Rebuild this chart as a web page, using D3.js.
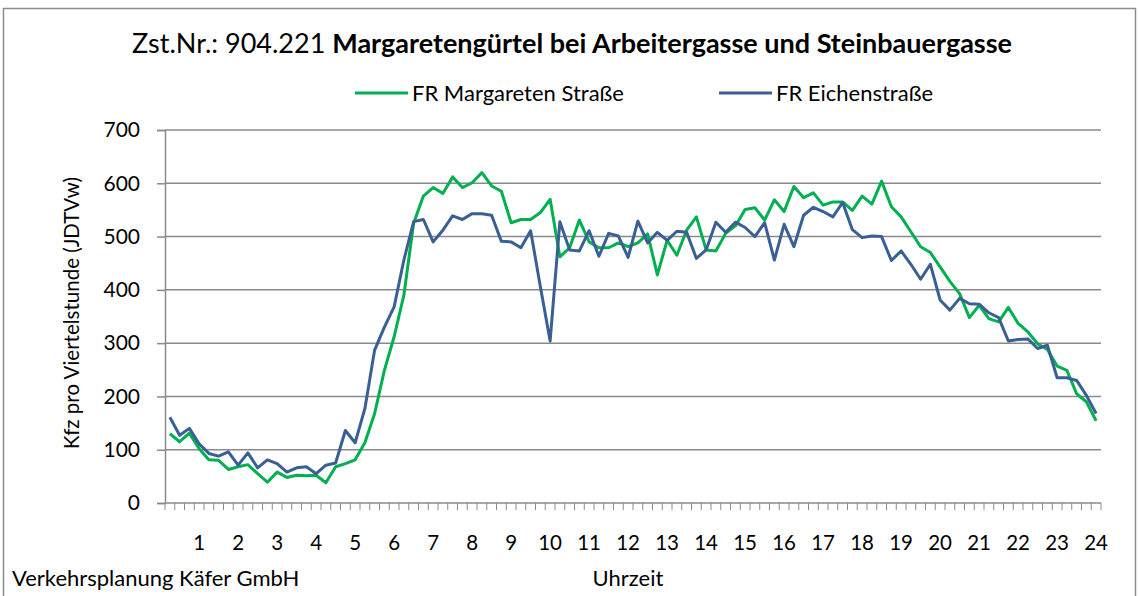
<!DOCTYPE html>
<html>
<head>
<meta charset="utf-8">
<script src="https://cdn.jsdelivr.net/npm/d3@7"></script>
<style>
  body { margin: 0; background: #fff; }
  svg { font-family: Lato, "Open Sans", sans-serif; }
</style>
</head>
<body>
<svg id="chart" width="1139" height="596"></svg>
<script>
// quarter-hour values, 00:15 ... 24:00
const greenValues = [
  130,115,131,102,81,80,63,68,72,55,39,58,48,52,51,52,38,68,74,81,113,168,249,312,
  390,525,576,592,581,612,592,601,620,595,585,526,532,532,545,570,462,479,531,490,479,479,488,481,
  488,505,428,493,465,512,537,475,473,506,520,551,554,531,569,547,594,573,582,559,565,565,549,576,
  561,604,556,537,509,481,470,443,416,393,348,371,346,340,367,337,321,299,288,257,249,205,190,154
];
const blueValues = [
  161,127,140,111,93,88,96,71,94,66,81,74,58,66,68,55,71,75,136,113,177,287,330,368,
  456,528,532,490,512,539,532,543,543,540,491,490,479,511,406,304,528,475,473,511,463,506,501,461,
  529,488,508,493,510,508,459,475,527,508,527,517,500,526,456,523,481,540,555,547,537,564,513,498,
  501,500,455,473,448,420,448,381,362,384,374,373,357,348,304,307,308,290,296,235,235,230,202,168
];
const seriesNames = ['FR Margareten Straße', 'FR Eichenstraße'];
const seriesColors = ['#00b050', '#3a5f95'];
const yTicks = [0, 100, 200, 300, 400, 500, 600, 700];
const hourLabels = d3.range(1, 25);

const svg = d3.select('#chart');
const margin = { top: 130, left: 165, right: 1101, bottom: 503 };

// outer frame
svg.append('rect')
  .attr('x', 3.5).attr('y', 8.5)
  .attr('width', 1132).attr('height', 600)
  .attr('fill', 'none')
  .attr('stroke', '#8c8c8c')
  .attr('stroke-width', 1.5);

const slots = d3.range(greenValues.length);
const x = d3.scaleBand()
  .domain(slots)
  .range([margin.left, margin.right]);

const y = d3.scaleLinear()
  .domain([0, 700])
  .range([margin.bottom, margin.top]);

// gridlines
svg.append('g')
  .selectAll('line')
  .data(yTicks.filter(d => d > 0))
  .enter().append('line')
  .attr('x1', margin.left).attr('x2', margin.right)
  .attr('y1', d => y(d)).attr('y2', d => y(d))
  .attr('stroke', '#8a8a8a')
  .attr('stroke-width', 1.5);

// y axis
const yAxis = svg.append('g')
  .attr('transform', `translate(${margin.left},0)`)
  .call(d3.axisLeft(y).tickValues(yTicks).tickSize(8).tickPadding(17));
yAxis.select('.domain').attr('stroke', '#8a8a8a').attr('stroke-width', 1.5);
yAxis.selectAll('.tick line').attr('stroke', '#8a8a8a').attr('stroke-width', 1.5);
yAxis.selectAll('.tick text')
  .attr('font-size', 21).attr('fill', '#000')
  .attr('font-family', 'Lato, sans-serif');

// x axis: tick marks at every quarter-hour boundary
const bw = x.bandwidth();
svg.append('line')
  .attr('x1', margin.left).attr('x2', margin.right)
  .attr('y1', margin.bottom).attr('y2', margin.bottom)
  .attr('stroke', '#8a8a8a').attr('stroke-width', 1.5);
svg.append('g')
  .selectAll('line')
  .data(d3.range(greenValues.length + 1))
  .enter().append('line')
  .attr('x1', d => margin.left + d * bw).attr('x2', d => margin.left + d * bw)
  .attr('y1', margin.bottom).attr('y2', margin.bottom + 7)
  .attr('stroke', '#8a8a8a').attr('stroke-width', 1);

svg.append('g')
  .selectAll('text')
  .data(hourLabels)
  .enter().append('text')
  .attr('x', d => x(d * 4 - 1) + bw / 2)
  .attr('y', 550)
  .attr('text-anchor', 'middle')
  .attr('font-size', 20.5)
  .text(d => d);

// lines
const line = d3.line()
  .x((d, i) => x(i) + bw / 2)
  .y(d => y(d));

[greenValues, blueValues].forEach((vals, k) => {
  svg.append('path')
    .datum(vals)
    .attr('d', line)
    .attr('fill', 'none')
    .attr('stroke', seriesColors[k])
    .attr('stroke-width', 3)
    .attr('stroke-linejoin', 'round');
});

// title
const title = svg.append('text')
  .attr('x', 572).attr('y', 53)
  .attr('text-anchor', 'middle')
  .attr('font-size', 27);
title.append('tspan').text('Zst.Nr.: 904.221 ');
title.append('tspan').attr('font-weight', 'bold')
  .text('Margaretengürtel bei Arbeitergasse und Steinbauergasse');

// legend
const legendX = [355, 719];
seriesNames.forEach((name, k) => {
  svg.append('line')
    .attr('x1', legendX[k]).attr('x2', legendX[k] + 53)
    .attr('y1', 93).attr('y2', 93)
    .attr('stroke', seriesColors[k]).attr('stroke-width', 3);
  svg.append('text')
    .attr('x', legendX[k] + 57).attr('y', 101)
    .attr('font-size', 22)
    .text(name);
});

// axis titles
svg.append('text')
  .attr('transform', 'translate(79,313) rotate(-90)')
  .attr('text-anchor', 'middle')
  .attr('font-size', 20.5)
  .text('Kfz pro Viertelstunde (JDTVw)');

svg.append('text')
  .attr('x', 628).attr('y', 586)
  .attr('text-anchor', 'middle')
  .attr('font-size', 22)
  .text('Uhrzeit');

svg.append('text')
  .attr('x', 12).attr('y', 586)
  .attr('font-size', 22)
  .text('Verkehrsplanung Käfer GmbH');
</script>
</body>
</html>
